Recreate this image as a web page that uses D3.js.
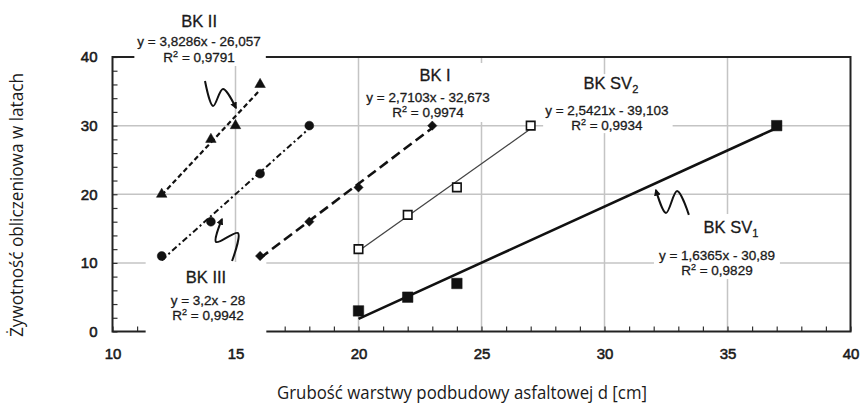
<!DOCTYPE html>
<html>
<head>
<meta charset="utf-8">
<script src="https://cdn.jsdelivr.net/npm/d3@7/dist/d3.min.js"></script>
<style>
  html, body { margin: 0; padding: 0; background: #fff; }
  svg { display: block; }
  .tick-label { font-family: "Liberation Sans", Arial, sans-serif; font-size: 15px; fill: #1a1a1a; stroke: #1a1a1a; stroke-width: 0.55px; }
  .lbl { font-family: "Liberation Sans", Arial, sans-serif; fill: #1a1a1a; stroke: #1a1a1a; stroke-width: 0.3px; }
  .axis-title { font-family: "Open Sans", sans-serif; font-size: 19px; fill: #1a1a1a; }
</style>
</head>
<body>
<svg id="chart" width="865" height="407"></svg>
<script>
// Calculated service life of asphalt base vs. layer thickness, five pavement types
const seriesNames = ["BK I", "BK II", "BK III", "BK SV1", "BK SV2"];

const xBKI   = [16, 18, 20, 23];
const yBKI   = [11, 16, 21, 30];
const xBKII  = [12, 14, 15, 16];
const yBKII  = [20, 28, 30, 36];
const xBKIII = [12, 14, 16, 18];
const yBKIII = [11, 16, 23, 30];
const xSV1   = [20, 22, 24, 37];
const ySV1   = [3, 5, 7, 30];
const xSV2   = [20, 22, 24, 27];
const ySV2   = [12, 17, 21, 30];

// linear trend lines as printed in the labels (y = a·x + b)
const slopes     = [2.7103, 3.8286, 3.2, 1.6365, 2.5421];
const intercepts = [-32.673, -26.057, -28, -30.89, -39.103];
const rSquared   = [0.9974, 0.9791, 0.9942, 0.9829, 0.9934];

const xTickValues = [10, 15, 20, 25, 30, 35, 40];
const yTickValues = [0, 10, 20, 30, 40];

const xTitle = "Grubość warstwy podbudowy asfaltowej d [cm]";
const yTitle = "Żywotność obliczeniowa w latach";

// ---------------------------------------------------------------
const svg = d3.select("#chart");
const pL = 112.5, pR = 850.5, pT = 57, pB = 331.5;
const x = d3.scaleLinear().domain([10, 40]).range([pL, pR]);
const y = d3.scaleLinear().domain([0, 40]).range([pB, pT]);

const xs = [xBKI, xBKII, xBKIII, xSV1, xSV2];
const ys = [yBKI, yBKII, yBKIII, ySV1, ySV2];

// per-series styling
const styles = [
  { dash: "10,5",    width: 2.6, color: "#111", symbol: d3.symbolDiamond2, size: 55,  fill: "#111" },
  { dash: "5,3",     width: 2.2, color: "#111", symbol: d3.symbolTriangle, size: 48,  fill: "#111" },
  { dash: "6,3,2,3", width: 2.0, color: "#111", symbol: d3.symbolCircle,   size: 62,  fill: "#111" },
  { dash: null,      width: 2.6, color: "#111", symbol: d3.symbolSquare,   size: 110, fill: "#111" },
  { dash: null,      width: 1.3, color: "#444", symbol: d3.symbolSquare,   size: 72,  fill: "#fff" }
];

// gridlines
const grid = svg.append("g");
grid.selectAll("line.v").data(xTickValues.filter(v => v > 10 && v < 40)).enter()
  .append("line").attr("x1", d => x(d)).attr("x2", d => x(d))
  .attr("y1", pT).attr("y2", pB)
  .attr("stroke", "#c4c4c4").attr("stroke-width", 1.5);
grid.selectAll("line.h").data(yTickValues.filter(v => v > 0 && v < 40)).enter()
  .append("line").attr("x1", pL).attr("x2", pR)
  .attr("y1", d => y(d)).attr("y2", d => y(d))
  .attr("stroke", "#c4c4c4").attr("stroke-width", 1.5);

// minor ticks pointing into the plot
const xMinor = d3.range(10, 41, 1);
const yMinor = d3.range(0, 41, 2);
const xAxisTicks = svg.append("g").attr("transform", `translate(0,${pB})`)
  .call(d3.axisBottom(x).tickValues(xMinor).tickSize(-5).tickFormat(""));
const yAxisTicks = svg.append("g").attr("transform", `translate(${pL},0)`)
  .call(d3.axisLeft(y).tickValues(yMinor).tickSize(-5).tickFormat(""));
[xAxisTicks, yAxisTicks].forEach(g => {
  g.select(".domain").remove();
  g.selectAll(".tick line").attr("stroke", "#333").attr("stroke-width", 1.2);
});

// major tick labels
const xLab = svg.append("g").attr("transform", `translate(0,${pB})`)
  .call(d3.axisBottom(x).tickValues(xTickValues).tickSize(0).tickPadding(17).tickFormat(d3.format("d")));
const yLab = svg.append("g").attr("transform", `translate(${pL},0)`)
  .call(d3.axisLeft(y).tickValues(yTickValues).tickSize(0).tickPadding(15).tickFormat(d3.format("d")));
[xLab, yLab].forEach(g => {
  g.select(".domain").remove();
  g.attr("font-size", null).attr("font-family", null);
  g.selectAll("text").attr("class", "tick-label").attr("fill", null);
});

// plot frame
svg.append("rect").attr("x", pL).attr("y", pT)
  .attr("width", pR - pL).attr("height", pB - pT)
  .attr("fill", "none").attr("stroke", "#222").attr("stroke-width", 2);

// trend-line labels
const fmt = v => String(Math.abs(v)).replace(".", ",");
const labels = [
  { i: 0, title: "BK I",   sub: null, tx: 23.11, ty: 36.5,  eqDx: -7,  dy1: 21, dy2: 15, pad: [5, 3, 3, 2] },
  { i: 1, title: "BK II",  sub: null, tx: 13.52, ty: 44.37, eqDx: 0,   dy1: 19, dy2: 16, pad: [3, 5, 30, 1] },
  { i: 2, title: "BK III", sub: null, tx: 13.80, ty: 7.07,  eqDx: 2,   dy1: 22, dy2: 15, pad: [25, 21, 6, 12] },
  { i: 3, title: "BK SV",  sub: "1",  tx: 35.14, ty: 14.35, eqDx: -14, dy1: 27, dy2: 15, pad: [5, 5, 4, 1] },
  { i: 4, title: "BK SV",  sub: "2",  tx: 30.26, ty: 35.32, eqDx: -4,  dy1: 26, dy2: 15, pad: [2, 4, 0, 0] }
];

const boxLayer = svg.append("g");
const lineLayer = svg.append("g");
const markLayer = svg.append("g");
const textLayer = svg.append("g");

labels.forEach(L => {
  const g = textLayer.append("g");
  const cx = x(L.tx), by = y(L.ty);
  const t = g.append("text").attr("class", "lbl").attr("x", cx).attr("y", by)
    .attr("text-anchor", "middle").attr("font-size", 16.5).text(L.title);
  if (L.sub) t.append("tspan").attr("font-size", 11).attr("dy", 4).text(L.sub);
  const a = slopes[L.i], b = intercepts[L.i];
  g.append("text").attr("class", "lbl").attr("x", cx + L.eqDx).attr("y", by + L.dy1)
    .attr("text-anchor", "middle").attr("font-size", 13.5)
    .text(`y = ${fmt(a)}x ${b < 0 ? "-" : "+"} ${fmt(b)}`);
  const r = g.append("text").attr("class", "lbl").attr("x", cx + L.eqDx).attr("y", by + L.dy1 + L.dy2)
    .attr("text-anchor", "middle").attr("font-size", 13.5);
  r.append("tspan").text("R");
  r.append("tspan").attr("font-size", 9).attr("dy", -5).text("2");
  r.append("tspan").attr("dy", 5).text(` = ${fmt(rSquared[L.i])}`);
  const bb = g.node().getBBox();
  const [pl, pr, pt, pb] = L.pad;
  boxLayer.append("rect")
    .attr("x", bb.x - pl).attr("y", bb.y - pt)
    .attr("width", bb.width + pl + pr).attr("height", bb.height + pt + pb)
    .attr("fill", "#fff");
});

// trend lines over each series' x range
xs.forEach((xv, i) => {
  const x0 = d3.min(xv), x1 = d3.max(xv);
  const s = styles[i];
  lineLayer.append("line")
    .attr("x1", x(x0)).attr("y1", y(slopes[i] * x0 + intercepts[i]))
    .attr("x2", x(x1)).attr("y2", y(slopes[i] * x1 + intercepts[i]))
    .attr("stroke", s.color).attr("stroke-width", s.width)
    .attr("stroke-dasharray", s.dash);
});

// data points
xs.forEach((xv, i) => {
  const s = styles[i];
  const pts = xv.map((v, k) => [v, ys[i][k]]);
  markLayer.selectAll(null).data(pts).enter().append("path")
    .attr("transform", d => `translate(${x(d[0])},${y(d[1])})`)
    .attr("d", d3.symbol().type(s.symbol).size(s.size))
    .attr("fill", s.fill)
    .attr("stroke", "#111").attr("stroke-width", s.fill === "#fff" ? 1.6 : 0.5);
});

// wavy pointer arrows from labels to their lines
svg.append("defs").append("marker")
  .attr("id", "arrow").attr("viewBox", "0 0 10 10").attr("refX", 8).attr("refY", 5)
  .attr("markerWidth", 7).attr("markerHeight", 7).attr("markerUnits", "userSpaceOnUse")
  .attr("orient", "auto")
  .append("path").attr("d", "M0,0 L10,5 L0,10 Z").attr("fill", "#111");

const pointers = [
  [[13.76, 36.50], [14.09, 32.86], [14.49, 35.34], [15.02, 32.57]],
  [[14.86, 10.27], [15.10, 14.35], [14.21, 13.04], [14.45, 16.39]],
  [[33.43, 16.99], [32.95, 20.47], [32.50, 17.27], [32.09, 20.62]]
];
const wave = d3.line().x(d => x(d[0])).y(d => y(d[1])).curve(d3.curveCatmullRom.alpha(0.5));
pointers.forEach(p => {
  svg.append("path").attr("d", wave(p)).attr("fill", "none")
    .attr("stroke", "#111").attr("stroke-width", 2)
    .attr("marker-end", "url(#arrow)");
});

// axis titles
svg.append("text").attr("class", "axis-title")
  .attr("x", 462).attr("y", 399).attr("text-anchor", "middle")
  .attr("textLength", 370).attr("lengthAdjust", "spacingAndGlyphs")
  .text(xTitle);
svg.append("text").attr("class", "axis-title")
  .attr("transform", "translate(23,205) rotate(-90)").attr("text-anchor", "middle")
  .attr("textLength", 264).attr("lengthAdjust", "spacingAndGlyphs")
  .text(yTitle);
</script>
</body>
</html>
